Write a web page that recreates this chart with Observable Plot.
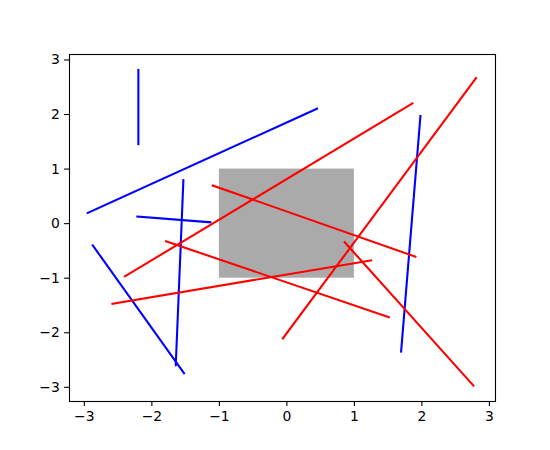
<!DOCTYPE html>
<html>
<head>
<meta charset="utf-8">
<script src="https://cdn.jsdelivr.net/npm/d3@7"></script>
<script src="https://cdn.jsdelivr.net/npm/@observablehq/plot@0.6"></script>
<style>
  html, body { margin: 0; padding: 0; background: #fff; }
</style>
</head>
<body>
<div id="chart"></div>
<script>
// Line segments: start and end points, with colour
const segX1 = [-2.20, -2.95, -2.215, -1.533, -2.876, 1.978, -2.40, -0.06, -1.098, -2.585, -1.79, 0.857];
const segY1 = [2.817, 0.196, 0.13, 0.796, -0.398, 1.972, -0.967, -2.105, 0.699, -1.469, -0.324, -0.342];
const segX2 = [-2.20, 0.447, -1.133, -1.646, -1.523, 1.692, 1.859, 2.803, 1.904, 1.247, 1.509, 2.763];
const segY2 = [1.457, 2.106, 0.025, -2.596, -2.743, -2.344, 2.204, 2.669, -0.606, -0.673, -1.714, -2.969];
const segColor = ["blue", "blue", "blue", "blue", "blue", "blue", "red", "red", "red", "red", "red", "red"];

// Gray rectangle
const rectX = [-1, 1];
const rectY = [-1, 1];

const ticks = [-3, -2, -1, 0, 1, 2, 3];

const segments = segX1.map((d, i) => ({
  x1: segX1[i], y1: segY1[i], x2: segX2[i], y2: segY2[i], color: segColor[i]
}));
const rects = [{x1: rectX[0], x2: rectX[1], y1: rectY[0], y2: rectY[1]}];

const fmt = d3.format("d");

const chart = Plot.plot({
  width: 550,
  height: 450,
  marginLeft: 69,
  marginRight: 55,
  marginTop: 54,
  marginBottom: 49,
  style: {fontFamily: "DejaVu Sans", fontSize: "13.9px", background: "#fff", color: "#000"},
  x: {domain: [-3.22, 3.09]},
  y: {domain: [-3.26, 3.10]},
  marks: [
    Plot.rect(rects, {x1: "x1", x2: "x2", y1: "y1", y2: "y2", fill: "#aaaaaa"}),
    Plot.link(segments, {x1: "x1", y1: "y1", x2: "x2", y2: "y2", stroke: d => d.color === "blue" ? "#0000ff" : "#ff0000", strokeWidth: 2.08, strokeLinecap: "square"}),
    Plot.frame({stroke: "#000", strokeWidth: 1.1}),
    Plot.axisX({ticks: ticks, tickFormat: fmt, tickSize: 4.9, tickPadding: 4.8, label: null, stroke: "#000", strokeWidth: 1.1, fill: "#000"}),
    Plot.axisY({ticks: ticks, tickFormat: fmt, tickSize: 4.9, tickPadding: 4.8, label: null, stroke: "#000", strokeWidth: 1.1, fill: "#000"})
  ]
});
document.getElementById("chart").appendChild(chart);
</script>
</body>
</html>
